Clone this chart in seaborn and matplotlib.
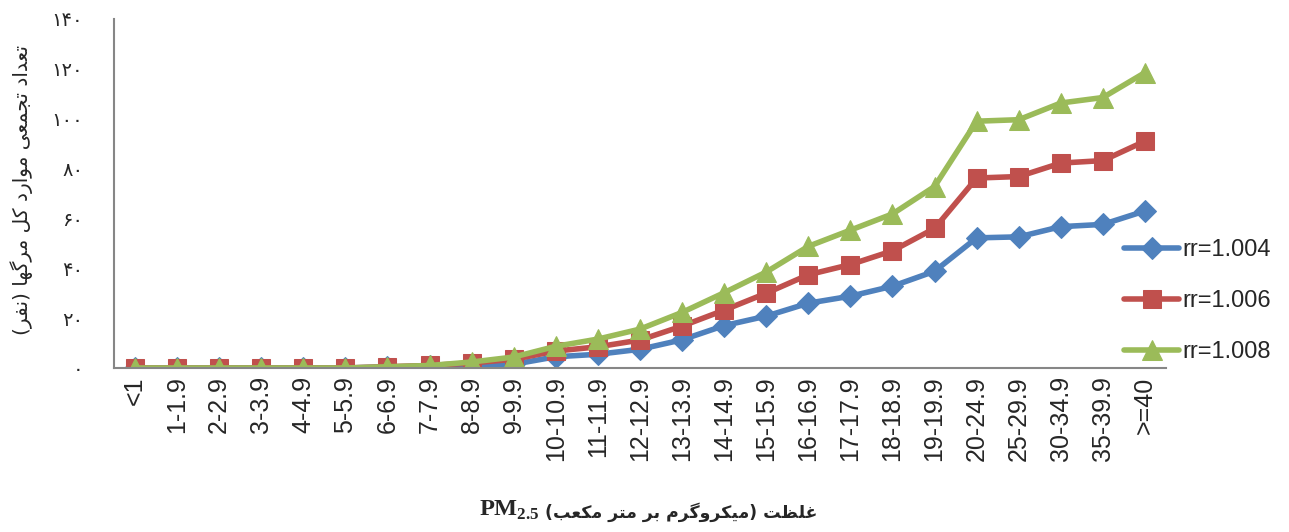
import numpy as np
import pandas as pd
import seaborn as sns
from matplotlib import pyplot as plt

# categories (PM2.5 concentration bins)
categories = ['<1', '1-1.9', '2-2.9', '3-3.9', '4-4.9', '5-5.9', '6-6.9', '7-7.9',
              '8-8.9', '9-9.9', '10-10.9', '11-11.9', '12-12.9', '13-13.9',
              '14-14.9', '15-15.9', '16-16.9', '17-17.9', '18-18.9', '19-19.9',
              '20-24.9', '25-29.9', '30-34.9', '35-39.9', '>=40']

# cumulative deaths for each relative risk
rr_1004 = [0, 0, 0, 0, 0, 0, 0.4, 0.7, 1, 1.5, 4.5, 5.5, 7.5, 11.3, 17, 20.8,
           26, 28.8, 32.8, 38.8, 52.2, 52.6, 56.7, 57.6, 63]
rr_1006 = [0, 0, 0, 0, 0, 0, 0.5, 1, 2, 3.5, 6.8, 8.5, 11.2, 16.8, 23.2, 30,
           37.4, 41.5, 47, 56, 76.2, 76.8, 82.2, 83.2, 91]
rr_1008 = [0, 0, 0, 0, 0, 0, 0.5, 1, 2.4, 4.4, 8.7, 11.6, 15.6, 22.3, 30.2, 38.5,
           48.8, 55.3, 61.8, 72.8, 99, 99.6, 106.3, 108.5, 118.5]

series_labels = ['rr=1.004', 'rr=1.006', 'rr=1.008']
yticks = [0, 20, 40, 60, 80, 100, 120, 140]

ylabel_fa = 'تعداد تجمعی موارد کل مرگها (نفر)'
xlabel_fa = 'غلظت (میکروگرم بر متر مکعب)'

# --- minimal Persian shaping (matplotlib has no bidi / joining support) ---
# letter: (isolated, final, initial, medial); right-joining letters have only 2 forms
FORMS = {
    'ا': (0xFE8D, 0xFE8E), 'د': (0xFEA9, 0xFEAA), 'ر': (0xFEAD, 0xFEAE),
    'و': (0xFEED, 0xFEEE),
    'ب': (0xFE8F, 0xFE90, 0xFE91, 0xFE92), 'ت': (0xFE95, 0xFE96, 0xFE97, 0xFE98),
    'ج': (0xFE9D, 0xFE9E, 0xFE9F, 0xFEA0), 'ظ': (0xFEC5, 0xFEC6, 0xFEC7, 0xFEC8),
    'ع': (0xFEC9, 0xFECA, 0xFECB, 0xFECC), 'غ': (0xFECD, 0xFECE, 0xFECF, 0xFED0),
    'ف': (0xFED1, 0xFED2, 0xFED3, 0xFED4), 'ل': (0xFEDD, 0xFEDE, 0xFEDF, 0xFEE0),
    'م': (0xFEE1, 0xFEE2, 0xFEE3, 0xFEE4), 'ن': (0xFEE5, 0xFEE6, 0xFEE7, 0xFEE8),
    'ه': (0xFEE9, 0xFEEA, 0xFEEB, 0xFEEC), 'ک': (0xFB8E, 0xFB8F, 0xFB90, 0xFB91),
    'گ': (0xFB92, 0xFB93, 0xFB94, 0xFB95), 'ی': (0xFBFC, 0xFBFD, 0xFBFE, 0xFBFF),
}


def rtl(text):
    out = []
    for i, ch in enumerate(text):
        if ch not in FORMS:
            out.append(ch)
            continue
        prev = text[i - 1] if i > 0 else ''
        nxt = text[i + 1] if i + 1 < len(text) else ''
        join_prev = prev in FORMS and len(FORMS[prev]) == 4
        join_next = len(FORMS[ch]) == 4 and nxt in FORMS
        f = FORMS[ch]
        if join_prev and join_next:
            out.append(chr(f[3]))
        elif join_prev:
            out.append(chr(f[1]))
        elif join_next:
            out.append(chr(f[2]))
        else:
            out.append(chr(f[0]))
    vis = ''.join(reversed(out))
    return vis.translate(str.maketrans('()', ')('))


def fa_digits(n):
    return str(n).translate(str.maketrans('0123456789', '۰۱۲۳۴۵۶۷۸۹'))


df = pd.DataFrame({'cat': categories * 3,
                   'val': rr_1004 + rr_1006 + rr_1008,
                   'rr': np.repeat(series_labels, len(categories))})

sns.set_style('white')
plt.rcParams['font.family'] = ['Liberation Sans', 'DejaVu Sans']
plt.rcParams['mathtext.fontset'] = 'custom'
plt.rcParams['mathtext.bf'] = 'Liberation Serif:bold'
plt.rcParams['mathtext.rm'] = 'Liberation Serif'

fig = plt.figure(figsize=(12.89, 5.32), dpi=100)
ax = fig.add_axes([0.0884, 0.3083, 0.8162, 0.656])

colors = ['#4F81BD', '#C0504D', '#9BBB59']
markers = ['D', 's', '^']
msizes = [11, 13.5, 15]
for lab, c, m, ms in zip(series_labels, colors, markers, msizes):
    sns.lineplot(data=df[df['rr'] == lab], x='cat', y='val', sort=False,
                 color=c, marker=m, markersize=ms, markeredgecolor=c,
                 lw=4, label=lab, ax=ax)

ax.set_xlim(-0.5, len(categories) - 0.5)
ax.set_ylim(0, 140)
ax.set_yticks(yticks)
ax.set_yticklabels([fa_digits(v) for v in yticks], family='DejaVu Sans', fontsize=14)
ax.set_xticks(range(len(categories)))
ax.set_xticklabels(categories, rotation=90, fontsize=18)
ax.tick_params(axis='x', length=0, pad=6)
ax.tick_params(axis='y', length=0, pad=22)

for side in ['top', 'right']:
    ax.spines[side].set_visible(False)
for side in ['left', 'bottom']:
    ax.spines[side].set_color('#868686')
    ax.spines[side].set_linewidth(1.5)

ax.set_xlabel('')
ax.set_ylabel('')
fig.text(22 / 1289, (532 - 190) / 532, rtl(ylabel_fa), rotation=90,
         ha='center', va='center', family='DejaVu Sans', fontsize=14.5)

# x label: PM2.5 on the left, Persian text on the right
fig.text(545 / 1289, 20 / 532, rtl(xlabel_fa), ha='left', va='center',
         family='DejaVu Sans', fontweight='bold', fontsize=12.5)
fig.text(540 / 1289, 22 / 532, r'$\mathbf{PM}_{\mathbf{2.5}}$', ha='right', va='center',
         fontsize=17.5)

ax.legend(loc='center left', bbox_to_anchor=(1115 / 1289, (532 - 301) / 532),
          bbox_transform=fig.transFigure, frameon=False, fontsize=17,
          borderaxespad=0, handlelength=2.33, handletextpad=0.13, labelspacing=1.22)

fig.savefig('out.png', dpi=100)
